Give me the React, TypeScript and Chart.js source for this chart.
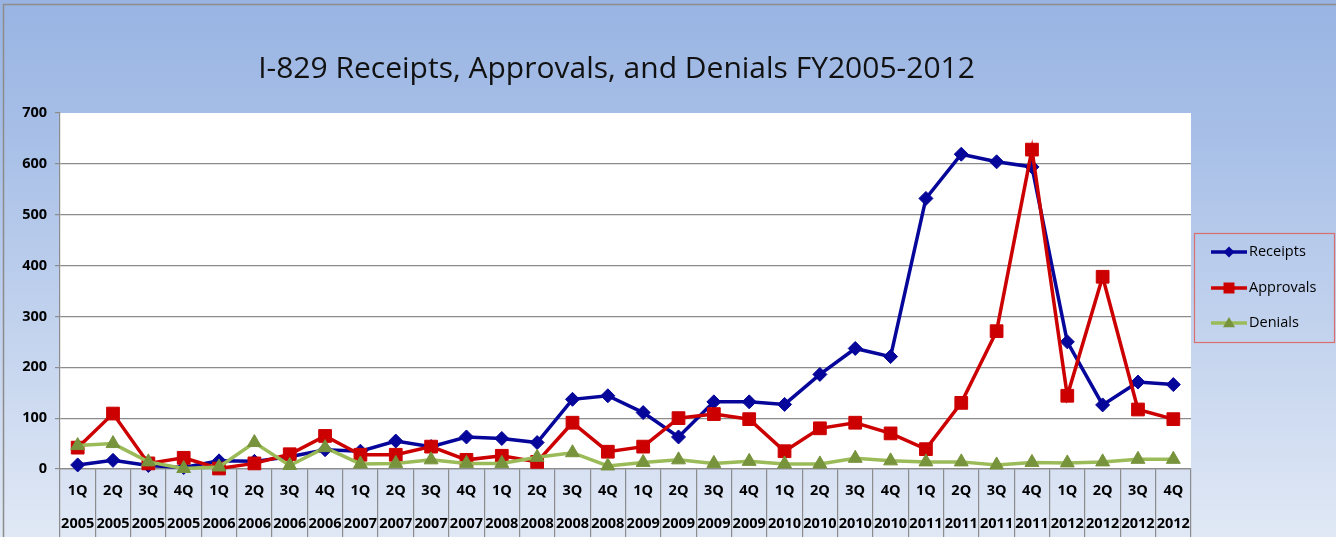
import React, { useEffect, useRef } from "react";
import { Chart, registerables } from "chart.js";

Chart.register(...registerables);

const quarterLabels = ["1Q","2Q","3Q","4Q","1Q","2Q","3Q","4Q","1Q","2Q","3Q","4Q","1Q","2Q","3Q","4Q","1Q","2Q","3Q","4Q","1Q","2Q","3Q","4Q","1Q","2Q","3Q","4Q","1Q","2Q","3Q","4Q"];
const fiscalYears = ["2005","2005","2005","2005","2006","2006","2006","2006","2007","2007","2007","2007","2008","2008","2008","2008","2009","2009","2009","2009","2010","2010","2010","2010","2011","2011","2011","2011","2012","2012","2012","2012"];

const receipts = [8,17,7,3,16,15,24,38,35,55,44,63,60,52,137,144,111,63,132,132,127,186,237,221,532,619,604,594,250,126,171,166];
const approvals = [42,109,11,22,1,11,29,65,28,28,44,18,26,14,91,34,44,100,108,98,35,80,91,70,39,130,271,628,144,378,117,98];
const denials = [46,50,14,1,4,52,7,42,10,11,18,11,11,23,32,6,13,18,11,15,10,10,21,16,14,14,8,13,12,14,19,19];

const yTicks = [0,100,200,300,400,500,600,700];

const TITLE = "I-829 Receipts, Approvals, and Denials FY2005-2012";
const FONT = "'Open Sans', 'Noto Sans', sans-serif";

const C_REC = "#06069a";
const C_APP = "#cc0000";
const C_DEN = "#9bbb59";
const C_DEN_M = "#77933c";

const legendItems = [
  { label: "Receipts", color: C_REC, marker: C_REC, shape: "diamond" },
  { label: "Approvals", color: C_APP, marker: C_APP, shape: "square" },
  { label: "Denials", color: C_DEN, marker: C_DEN_M, shape: "triangle" },
];

function drawMarker(ctx: CanvasRenderingContext2D, shape: string, x: number, y: number, s: number) {
  ctx.beginPath();
  if (shape === "diamond") {
    ctx.moveTo(x, y - s); ctx.lineTo(x + s, y); ctx.lineTo(x, y + s); ctx.lineTo(x - s, y);
  } else if (shape === "square") {
    ctx.rect(x - s, y - s, 2 * s, 2 * s);
  } else {
    ctx.moveTo(x, y - s * 1.1); ctx.lineTo(x + s * 1.1, y + s * 0.75); ctx.lineTo(x - s * 1.1, y + s * 0.75);
  }
  ctx.closePath();
  ctx.fill();
}

const decorPlugin = {
  id: "decor",
  beforeDraw(chart: any) {
    const { ctx, chartArea, width, height } = chart;
    ctx.save();
    const g = ctx.createLinearGradient(0, 0, 0, height);
    g.addColorStop(0, "#99b4e3");
    g.addColorStop(0.25, "#a7bfe7");
    g.addColorStop(1, "#e0e8f5");
    ctx.fillStyle = g;
    ctx.fillRect(0, 0, width, height);
    ctx.strokeStyle = "#8c8c8c";
    ctx.lineWidth = 1.5;
    ctx.beginPath();
    ctx.moveTo(3.5, height);
    ctx.lineTo(3.5, 4.5);
    ctx.lineTo(width, 4.5);
    ctx.stroke();
    ctx.fillStyle = "#ffffff";
    ctx.fillRect(chartArea.left, chartArea.top, chartArea.right - chartArea.left, chartArea.bottom - chartArea.top);
    ctx.restore();
  },
  afterDraw(chart: any) {
    const { ctx, chartArea } = chart;
    ctx.save();
    // title
    ctx.fillStyle = "#111111";
    ctx.font = `30px ${FONT}`;
    ctx.textAlign = "center";
    ctx.textBaseline = "middle";
    ctx.fillText(TITLE, (chartArea.left + chartArea.right) / 2 - 9, 69);
    // legend
    const bx = 1194.5, by = 233.5, bw = 140, bh = 109;
    ctx.strokeStyle = "#d9706d";
    ctx.lineWidth = 1.2;
    ctx.strokeRect(bx, by, bw, bh);
    const rows = [252, 288, 323];
    legendItems.forEach((it, i) => {
      const y = rows[i];
      ctx.strokeStyle = it.color;
      ctx.lineWidth = 3.5;
      ctx.beginPath();
      ctx.moveTo(1211, y);
      ctx.lineTo(1247, y);
      ctx.stroke();
      ctx.fillStyle = it.marker;
      drawMarker(ctx, it.shape, 1229, y, 5.5);
      ctx.fillStyle = "#000000";
      ctx.font = `14.5px ${FONT}`;
      ctx.textAlign = "left";
      ctx.textBaseline = "middle";
      ctx.fillText(it.label, 1249, y);
    });
    ctx.restore();
  },
};

export default function App() {
  const ref = useRef<HTMLCanvasElement | null>(null);

  useEffect(() => {
    if (!ref.current) return;
    const labels = quarterLabels.map((q, i) => [q, fiscalYears[i]]);
    const chart = new Chart(ref.current, {
      type: "line",
      data: {
        labels,
        datasets: [
          {
            label: "Receipts",
            data: receipts,
            borderColor: C_REC,
            backgroundColor: C_REC,
            borderWidth: 3.5,
            pointStyle: "rectRot",
            pointRadius: 7,
            pointBorderWidth: 1,
            pointBorderColor: C_REC,
            pointBackgroundColor: C_REC,
            tension: 0,
            clip: false,
            order: 2,
          },
          {
            label: "Approvals",
            data: approvals,
            borderColor: C_APP,
            backgroundColor: C_APP,
            borderWidth: 3.5,
            pointStyle: "rect",
            pointRadius: 9,
            pointBorderWidth: 1,
            pointBorderColor: C_APP,
            pointBackgroundColor: C_APP,
            tension: 0,
            clip: false,
            order: 1,
          },
          {
            label: "Denials",
            data: denials,
            borderColor: C_DEN,
            backgroundColor: C_DEN_M,
            borderWidth: 3.5,
            pointStyle: "triangle",
            pointRadius: 8,
            pointBorderWidth: 1,
            pointBorderColor: C_DEN_M,
            pointBackgroundColor: C_DEN_M,
            tension: 0,
            clip: false,
            order: 0,
          },
        ],
      },
      options: {
        responsive: false,
        animation: false,
        layout: { padding: { left: 8, right: 145, top: 113, bottom: 0 } },
        plugins: {
          legend: { display: false },
          title: { display: false },
          tooltip: { enabled: false },
        },
        scales: {
          x: {
            type: "category",
            offset: true,
            grid: {
              offset: true,
              drawOnChartArea: false,
              drawTicks: true,
              tickLength: 68,
              color: "#8c8c8c",
              lineWidth: 1.2,
            },
            border: { display: true, color: "#8c8c8c", width: 1.2 },
            ticks: {
              autoSkip: false,
              maxRotation: 0,
              minRotation: 0,
              padding: -63,
              color: "#000000",
              font: { family: FONT, size: 14.5, weight: "bold", lineHeight: 2.3 },
            },
            afterFit: (scale: any) => { scale.height = 68; },
          },
          y: {
            min: 0,
            max: 700,
            afterBuildTicks: (scale: any) => { scale.ticks = yTicks.map((v) => ({ value: v })); },
            grid: {
              color: (c: any) => (c.tick && c.tick.value === 700 ? "rgba(0,0,0,0)" : "#8c8c8c"),
              tickColor: "#8c8c8c",
              tickLength: 5,
              lineWidth: 1.2,
            },
            border: { display: true, color: "#8c8c8c", width: 1.2 },
            ticks: {
              padding: 8,
              color: "#000000",
              font: { family: FONT, size: 14.5, weight: "bold" },
            },
            afterFit: (scale: any) => { scale.width = 52; },
          },
        },
      } as any,
      plugins: [decorPlugin],
    });
    return () => chart.destroy();
  }, []);

  return (
    <div style={{ position: "absolute", left: 0, top: 0, width: 1336, height: 537 }}>
      <canvas ref={ref} width={1336} height={537} style={{ display: "block", width: 1336, height: 537 }} />
    </div>
  );
}
